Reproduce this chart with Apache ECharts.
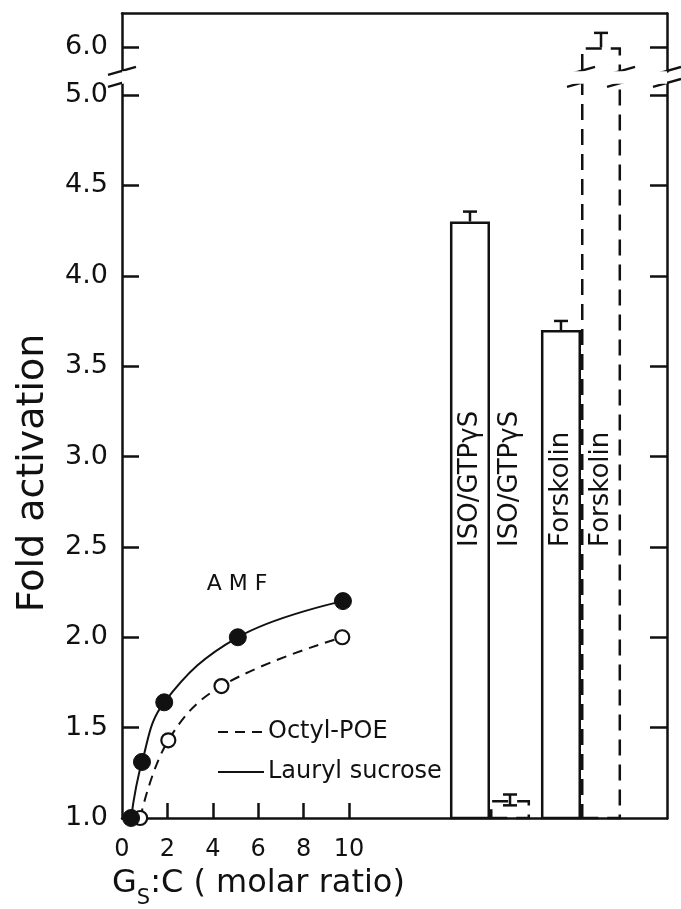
<!DOCTYPE html>
<html>
<head>
<meta charset="utf-8">
<script src="https://cdn.jsdelivr.net/npm/echarts@6.0.0/dist/echarts.min.js"></script>
<style>
html, body { margin: 0; padding: 0; background: #fff; }
#chart { width: 681px; height: 909px; }
</style>
</head>
<body>
<div id="chart"></div>
<script>
// AMF curves: Gs:C molar ratio -> fold activation
var laurylX = [0.4, 0.88, 1.86, 5.1, 9.73];
var laurylY = [1.0, 1.31, 1.64, 2.0, 2.2];
var octylX = [0.8, 2.04, 4.38, 9.7];
var octylY = [1.0, 1.43, 1.73, 2.0];

// bar groups: left bar lauryl sucrose (solid), right bar octyl-POE (dashed)
var barGroups = ['ISO/GTPγS', 'Forskolin'];
var laurylBars = [4.3, 3.7];
var octylBars = [1.1, 6.0];
var laurylErrLow = [4.3, 3.7];
var laurylErrHigh = [4.355, 3.75];
var octylErrLow = [1.07, 6.0];
var octylErrHigh = [1.13, 6.08];
var barLabelFrom = 2.5;

var yTicks = [1.0, 1.5, 2.0, 2.5, 3.0, 3.5, 4.0, 4.5, 5.0, 6.0];
var xTicks = [0, 2, 4, 6, 8, 10];
var yBreak = { start: 5.067, end: 5.87 };

var INK = '#111';
var FONT = 'DejaVu Sans';
var BAR_CAT_GAP = 0.12;

var chart = echarts.init(document.getElementById('chart'));

function yAxisCfg(gridIndex, position, extra) {
    var cfg = {
        type: 'value',
        gridIndex: gridIndex,
        position: position,
        min: 1.0,
        max: 6.19,
        breaks: [{ start: yBreak.start, end: yBreak.end, gap: '1.5%' }],
        breakArea: {
            show: true,
            itemStyle: { color: '#fff', borderWidth: 0, borderColor: 'rgba(0,0,0,0)', opacity: 1 },
            zigzagAmplitude: 0
        },
        splitLine: { show: false },
        axisLine: { show: true, onZero: false, lineStyle: { color: INK, width: 2.5 } },
        axisTick: { show: true, inside: true, length: 17, lineStyle: { color: INK, width: 2.5 }, customValues: yTicks.slice(1) },
        axisLabel: { show: false }
    };
    return Object.assign(cfg, extra || {});
}

// x position of a bar centre inside a group (side 0 = left, 1 = right)
function barX(api, gi, side) {
    var c = api.coord([gi, 1.0])[0];
    var band = api.size([1, 0])[0];
    var bw = band * (1 - BAR_CAT_GAP) / 2;
    return side === 0 ? c - bw / 2 : c + bw / 2;
}

var errData = [];
laurylBars.forEach(function (v, i) { errData.push([i, laurylErrLow[i], laurylErrHigh[i], 0, v]); });
octylBars.forEach(function (v, i) { errData.push([i, octylErrLow[i], octylErrHigh[i], 1, v]); });

var labelData = [];
barGroups.forEach(function (g, i) { labelData.push([i, barLabelFrom, 0]); labelData.push([i, barLabelFrom, 1]); });

var baseGraphic = [
    {
        id: 'ytitle', type: 'text', x: 33, y: 473, rotation: Math.PI / 2,
        style: { text: 'Fold activation', fontSize: 38, fontFamily: FONT, fill: INK, align: 'center', verticalAlign: 'middle' }
    },
    {
        id: 'xtitle', type: 'text', x: 112, y: 884,
        style: {
            text: '{a|G}{s|S}{a|:C ( molar ratio)}',
            verticalAlign: 'middle', align: 'left',
            rich: {
                a: { fontSize: 32, fontFamily: FONT, fill: INK },
                s: { fontSize: 21, fontFamily: FONT, fill: INK, padding: [30, 0, 0, 0] }
            }
        }
    },
    {
        id: 'amf', type: 'text', x: 237, y: 584,
        style: { text: 'A M F', fontSize: 22, fontFamily: FONT, fill: INK, align: 'center', verticalAlign: 'middle' }
    }
];

chart.setOption({
    animation: false,
    backgroundColor: '#fff',
    grid: [
        { left: 122, right: 14, top: 13, bottom: 91 },
        { left: 444.5, right: 54.5, top: 13, bottom: 91 }
    ],
    legend: {
        data: ['Octyl-POE', 'Lauryl sucrose'],
        orient: 'vertical',
        left: 212,
        top: 715,
        itemWidth: 46,
        itemHeight: 14,
        itemGap: 16,
        itemStyle: { opacity: 0 },
        textStyle: { fontSize: 24, fontFamily: FONT, color: INK, padding: [0, 0, 0, -1] }
    },
    xAxis: [
        {
            type: 'value', gridIndex: 0, position: 'bottom', min: 0, max: 24,
            splitLine: { show: false },
            axisLine: { onZero: false, lineStyle: { color: INK, width: 2.5 } },
            axisTick: { inside: true, length: 15, lineStyle: { color: INK, width: 2.5 }, customValues: xTicks.slice(1) },
            axisLabel: { customValues: xTicks, fontSize: 24, fontFamily: FONT, color: INK, margin: 20 }
        },
        {
            type: 'value', gridIndex: 0, position: 'top', min: 0, max: 24,
            splitLine: { show: false },
            axisLine: { onZero: false, lineStyle: { color: INK, width: 2.5 } },
            axisTick: { show: false },
            axisLabel: { show: false }
        },
        {
            type: 'category', gridIndex: 1, data: barGroups, show: false
        }
    ],
    yAxis: [
        yAxisCfg(0, 'left', {
            axisLabel: {
                show: true, customValues: yTicks, fontSize: 27, fontFamily: FONT, color: INK, margin: 14,
                formatter: function (v) { return v.toFixed(1); }
            }
        }),
        yAxisCfg(0, 'right'),
        yAxisCfg(1, 'left', { show: false })
    ],
    graphic: baseGraphic,
    series: [
        {
            name: 'Octyl-POE', type: 'line', xAxisIndex: 0, yAxisIndex: 0,
            data: octylX.map(function (x, i) { return [x, octylY[i]]; }),
            smooth: 0.4,
            symbol: 'circle', symbolSize: 14,
            itemStyle: { color: '#fff', borderColor: INK, borderWidth: 2.2 },
            lineStyle: { color: INK, width: 2, type: [10, 7] },
            z: 3
        },
        {
            name: 'Lauryl sucrose', type: 'line', xAxisIndex: 0, yAxisIndex: 0,
            data: laurylX.map(function (x, i) { return [x, laurylY[i]]; }),
            smooth: 0.4,
            symbol: 'circle', symbolSize: 17,
            itemStyle: { color: INK, borderColor: INK },
            lineStyle: { color: INK, width: 2 },
            z: 4
        },
        {
            name: 'Lauryl sucrose bars', type: 'bar', xAxisIndex: 2, yAxisIndex: 2,
            data: laurylBars,
            barGap: '0%', barCategoryGap: (BAR_CAT_GAP * 100) + '%',
            itemStyle: { color: 'rgba(255,255,255,0)', borderColor: INK, borderWidth: 2.5 },
            z: 3
        },
        {
            name: 'Octyl-POE bars', type: 'bar', xAxisIndex: 2, yAxisIndex: 2,
            data: octylBars,
            itemStyle: { color: 'rgba(255,255,255,0)', borderColor: INK, borderWidth: 2.5, borderType: [16, 9] },
            z: 2
        },
        {
            name: 'errors', type: 'custom', xAxisIndex: 2, yAxisIndex: 2,
            data: errData,
            renderItem: function (params, api) {
                var gi = api.value(0), lo = api.value(1), hi = api.value(2), side = api.value(3), top = api.value(4);
                var x = barX(api, gi, side);
                var yLo = api.coord([gi, lo])[1], yHi = api.coord([gi, hi])[1];
                var st = { stroke: INK, lineWidth: 2.5 };
                var kids = [
                    { type: 'line', shape: { x1: x, y1: yLo, x2: x, y2: yHi }, style: st },
                    { type: 'line', shape: { x1: x - 7, y1: yHi, x2: x + 7, y2: yHi }, style: st }
                ];
                if (lo < top) {
                    kids.push({ type: 'line', shape: { x1: x - 7, y1: yLo, x2: x + 7, y2: yLo }, style: st });
                }
                return { type: 'group', children: kids };
            },
            z: 5
        },
        {
            name: 'bar labels', type: 'custom', xAxisIndex: 2, yAxisIndex: 2,
            data: labelData,
            renderItem: function (params, api) {
                var gi = api.value(0), side = api.value(2);
                var x = barX(api, gi, side);
                var y = api.coord([gi, api.value(1)])[1];
                return {
                    type: 'text', x: x, y: y, rotation: Math.PI / 2,
                    style: { text: barGroups[gi], fontSize: 26, fontFamily: FONT, fill: INK, align: 'left', verticalAlign: 'middle' }
                };
            },
            z: 5
        }
    ]
});

// slanted break marks on the axes and on the broken bar edges
var yUp = chart.convertToPixel({ yAxisIndex: 0 }, yBreak.end);
var yDn = chart.convertToPixel({ yAxisIndex: 0 }, yBreak.start);
var xL = chart.convertToPixel({ xAxisIndex: 0 }, 0);
var xR = chart.convertToPixel({ xAxisIndex: 0 }, 24);
var c0 = chart.convertToPixel({ xAxisIndex: 2 }, 0);
var c1 = chart.convertToPixel({ xAxisIndex: 2 }, 1);
var bw = (c1 - c0) * (1 - BAR_CAT_GAP) / 2;
var markXs = [xL, xR];
octylBars.forEach(function (v, i) {
    if (v > yBreak.end) {
        var c = chart.convertToPixel({ xAxisIndex: 2 }, i);
        markXs.push(c, c + bw);
    }
});
var marks = [];
markXs.forEach(function (x, k) {
    [yUp, yDn].forEach(function (y, j) {
        marks.push({
            id: 'brk' + k + '_' + j, type: 'line', z: 50,
            shape: { x1: x - 14, y1: y + 4, x2: x + 14, y2: y - 4 },
            style: { stroke: INK, lineWidth: 2.5 }
        });
    });
});
chart.setOption({ graphic: baseGraphic.concat(marks) });
</script>
</body>
</html>
